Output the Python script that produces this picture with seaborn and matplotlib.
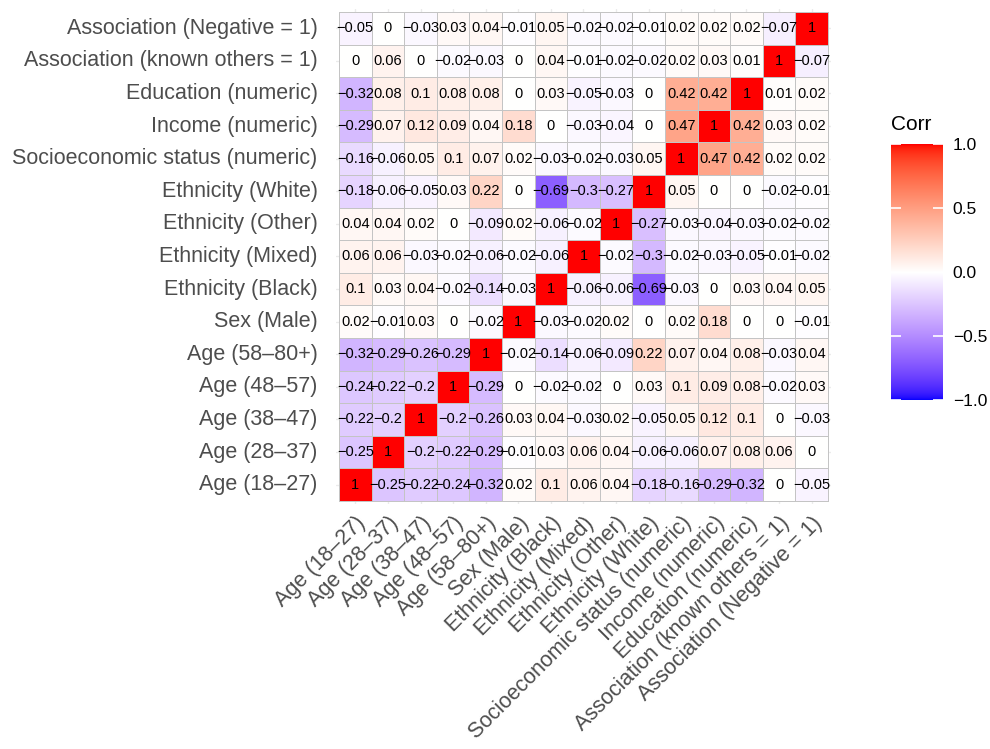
import numpy as np
import pandas as pd
import matplotlib
matplotlib.use("Agg")
import matplotlib.pyplot as plt
import matplotlib.transforms as mtransforms
from matplotlib.colors import ListedColormap
import seaborn as sns

variables = [
    "Age (18\u201327)", "Age (28\u201337)", "Age (38\u201347)", "Age (48\u201357)",
    "Age (58\u201380+)", "Sex (Male)", "Ethnicity (Black)", "Ethnicity (Mixed)",
    "Ethnicity (Other)", "Ethnicity (White)", "Socioeconomic status (numeric)",
    "Income (numeric)", "Education (numeric)", "Association (known others = 1)",
    "Association (Negative = 1)",
]

# correlation rows, in the same order as `variables`
r_age1827 = [1, -0.25, -0.22, -0.24, -0.32, 0.02, 0.1, 0.06, 0.04, -0.18, -0.16, -0.29, -0.32, 0, -0.05]
r_age2837 = [-0.25, 1, -0.2, -0.22, -0.29, -0.01, 0.03, 0.06, 0.04, -0.06, -0.06, 0.07, 0.08, 0.06, 0]
r_age3847 = [-0.22, -0.2, 1, -0.2, -0.26, 0.03, 0.04, -0.03, 0.02, -0.05, 0.05, 0.12, 0.1, 0, -0.03]
r_age4857 = [-0.24, -0.22, -0.2, 1, -0.29, 0, -0.02, -0.02, 0, 0.03, 0.1, 0.09, 0.08, -0.02, 0.03]
r_age5880 = [-0.32, -0.29, -0.26, -0.29, 1, -0.02, -0.14, -0.06, -0.09, 0.22, 0.07, 0.04, 0.08, -0.03, 0.04]
r_sex = [0.02, -0.01, 0.03, 0, -0.02, 1, -0.03, -0.02, 0.02, 0, 0.02, 0.18, 0, 0, -0.01]
r_black = [0.1, 0.03, 0.04, -0.02, -0.14, -0.03, 1, -0.06, -0.06, -0.69, -0.03, 0, 0.03, 0.04, 0.05]
r_mixed = [0.06, 0.06, -0.03, -0.02, -0.06, -0.02, -0.06, 1, -0.02, -0.3, -0.02, -0.03, -0.05, -0.01, -0.02]
r_other = [0.04, 0.04, 0.02, 0, -0.09, 0.02, -0.06, -0.02, 1, -0.27, -0.03, -0.04, -0.03, -0.02, -0.02]
r_white = [-0.18, -0.06, -0.05, 0.03, 0.22, 0, -0.69, -0.3, -0.27, 1, 0.05, 0, 0, -0.02, -0.01]
r_ses = [-0.16, -0.06, 0.05, 0.1, 0.07, 0.02, -0.03, -0.02, -0.03, 0.05, 1, 0.47, 0.42, 0.02, 0.02]
r_income = [-0.29, 0.07, 0.12, 0.09, 0.04, 0.18, 0, -0.03, -0.04, 0, 0.47, 1, 0.42, 0.03, 0.02]
r_education = [-0.32, 0.08, 0.1, 0.08, 0.08, 0, 0.03, -0.05, -0.03, 0, 0.42, 0.42, 1, 0.01, 0.02]
r_assoc_known = [0, 0.06, 0, -0.02, -0.03, 0, 0.04, -0.01, -0.02, -0.02, 0.02, 0.03, 0.01, 1, -0.07]
r_assoc_neg = [-0.05, 0, -0.03, 0.03, 0.04, -0.01, 0.05, -0.02, -0.02, -0.01, 0.02, 0.02, 0.02, -0.07, 1]

rows = [r_age1827, r_age2837, r_age3847, r_age4857, r_age5880, r_sex, r_black,
        r_mixed, r_other, r_white, r_ses, r_income, r_education, r_assoc_known,
        r_assoc_neg]

corr = pd.DataFrame(rows, index=variables, columns=variables)
# first variable sits at the bottom of the grid
plot_df = corr.iloc[::-1]


# diverging blue-white-red palette interpolated in CIELAB
def srgb_to_lab(rgb):
    rgb = np.asarray(rgb, float)
    lin = np.where(rgb <= 0.04045, rgb / 12.92, ((rgb + 0.055) / 1.055) ** 2.4)
    M = np.array([[0.4124564, 0.3575761, 0.1804375],
                  [0.2126729, 0.7151522, 0.0721750],
                  [0.0193339, 0.1191920, 0.9503041]])
    xyz = M @ lin
    white = np.array([0.95047, 1.0, 1.08883])
    t = xyz / white
    f = np.where(t > (6 / 29) ** 3, np.cbrt(t), t / (3 * (6 / 29) ** 2) + 4 / 29)
    return np.array([116 * f[1] - 16, 500 * (f[0] - f[1]), 200 * (f[1] - f[2])])


def lab_to_srgb(lab):
    L, a, b = lab
    fy = (L + 16) / 116
    fx = fy + a / 500
    fz = fy - b / 200
    f = np.array([fx, fy, fz])
    t = np.where(f > 6 / 29, f ** 3, 3 * (6 / 29) ** 2 * (f - 4 / 29))
    white = np.array([0.95047, 1.0, 1.08883])
    xyz = t * white
    Minv = np.array([[3.2404542, -1.5371385, -0.4985314],
                     [-0.9692660, 1.8760108, 0.0415560],
                     [0.0556434, -0.2040259, 1.0572252]])
    lin = np.clip(Minv @ xyz, 0, 1)
    rgb = np.where(lin <= 0.0031308, 12.92 * lin, 1.055 * lin ** (1 / 2.4) - 0.055)
    return np.clip(rgb, 0, 1)


lab_low = srgb_to_lab([0, 0, 1])
lab_mid = srgb_to_lab([1, 1, 1])
lab_high = srgb_to_lab([1, 0, 0])
colors = []
for v in np.linspace(-1, 1, 512):
    if v < 0:
        lab = lab_mid + (-v) * (lab_low - lab_mid)
    else:
        lab = lab_mid + v * (lab_high - lab_mid)
    colors.append(lab_to_srgb(lab))
cmap = ListedColormap(colors)


def fmt_value(v):
    s = f"{round(v, 2):g}"
    return s.replace("-", "\u2212")


annot = np.vectorize(fmt_value)(plot_df.values)

sns.set_theme(style="white")
plt.rcParams["font.family"] = ["Liberation Sans", "DejaVu Sans"]

W, H = 990, 749
fig = plt.figure(figsize=(W / 100, H / 100), dpi=100)

n = len(variables)
px_left, px_right, px_top, px_bottom = 339.0, 828.0, 12.0, 501.0
cell = (px_right - px_left) / n
margin = 0.1 * cell
ax = fig.add_axes([(px_left - margin) / W, (H - px_bottom - margin) / H,
                   (px_right - px_left + 2 * margin) / W,
                   (px_bottom - px_top + 2 * margin) / H])
cax = fig.add_axes([891 / W, (H - 400) / H, 52 / W, 256 / H])

sns.heatmap(plot_df, ax=ax, cmap=cmap, vmin=-1, vmax=1, annot=annot, fmt="",
            annot_kws={"size": 10.5, "color": "black"},
            linewidths=0.6, linecolor="#C4C4C4", cbar_ax=cax,
            cbar_kws={"ticks": [-1, -0.5, 0, 0.5, 1]})

ax.set_xlim(-0.1, n + 0.1)
ax.set_ylim(n + 0.1, -0.1)
ax.set_axisbelow(True)
ax.grid(True, color="#EBEBEB", linewidth=1.0)
ax.collections[0].set_zorder(2)
for t in ax.texts:
    t.set_zorder(3)
for s in ax.spines.values():
    s.set_visible(False)
ax.set_xlabel("")
ax.set_ylabel("")
ax.tick_params(axis="both", length=0)
ax.tick_params(axis="y", pad=13)
ax.tick_params(axis="x", pad=6)
ax.set_yticklabels(plot_df.index, rotation=0, fontsize=15.5, color="#4D4D4D")
ax.set_xticklabels(plot_df.columns, rotation=45, ha="right",
                   rotation_mode="anchor", fontsize=15.5, color="#4D4D4D")

# colour bar styling
for s in cax.spines.values():
    s.set_visible(False)
cax.tick_params(length=0, pad=7, labelsize=12.5, labelcolor="black")
cax.set_yticklabels(["\u22121.0", "\u22120.5", "0.0", "0.5", "1.0"])
trans = mtransforms.blended_transform_factory(cax.transAxes, cax.transData)
for tv in [-1, -0.5, 0, 0.5, 1]:
    cax.plot([0, 0.2], [tv, tv], color="white", lw=1.2, transform=trans,
             clip_on=False, solid_capstyle="butt")
    cax.plot([0.8, 1.0], [tv, tv], color="white", lw=1.2, transform=trans,
             clip_on=False, solid_capstyle="butt")
fig.text(891 / W, (H - 124) / H, "Corr", fontsize=15, color="black",
         ha="left", va="center")

fig.savefig("out.png", dpi=100, facecolor="white")
